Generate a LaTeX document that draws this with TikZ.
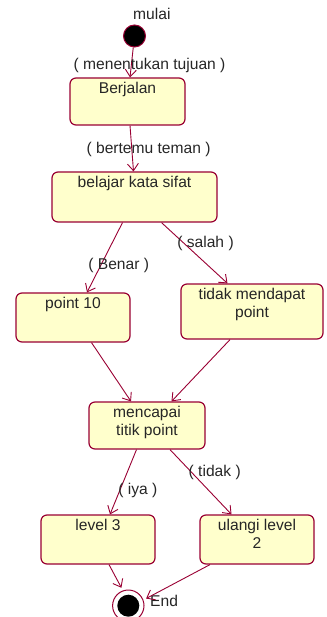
\documentclass[tikz,border=0pt]{standalone}
\usepackage{fontspec}
\setmainfont{Liberation Sans}
\usetikzlibrary{arrows.meta,calc}
\definecolor{umlmaroon}{HTML}{990033}
\definecolor{umlfill}{HTML}{FFFFCC}
\tikzset{
  statebox/.style={rectangle, draw=umlmaroon, fill=umlfill, rounded corners=6pt,
    line width=1.2pt, inner sep=0pt},
  statetext/.style={anchor=north, inner sep=0pt, yshift=-5pt, align=center,
    text=black!85},
  initstate/.style={circle, draw=umlmaroon, fill=black, minimum size=22pt,
    inner sep=0pt, line width=1pt},
  finalstate/.style={circle, draw=umlmaroon, line width=1pt, minimum size=31.4pt,
    inner sep=0pt, outer sep=3.5pt,
    path picture={\fill[black] (path picture bounding box.center) circle (11pt);}},
  trans/.style={-{Straight Barb[length=7pt, width=11pt]}, line width=0.9pt,
    draw=umlmaroon},
  guard/.style={text=black!85, inner sep=1pt},
  statename/.style={text=black!85, inner sep=0pt, anchor=base west},
}

\begin{document}
\begin{tikzpicture}[x=1pt, y=-1pt, font=\fontsize{15.6}{18}\selectfont]
\useasboundingbox (0,0) rectangle (326,617);
% --- start ---
\node[initstate] (start) at (134.5,36) {};
\node[statename] (mulaitext) at (133,20) {mulai};
% --- states ---
\node[statebox, minimum width=115pt, minimum height=47pt,
  label={[statetext]north:Berjalan}] (berjalan) at (127.5,101.5) {};
\node[statebox, minimum width=165pt, minimum height=50pt,
  label={[statetext]north:belajar kata sifat}] (belajar) at (134.5,197) {};
\node[statebox, minimum width=114pt, minimum height=49pt,
  label={[statetext]north:point 10}] (point) at (73,317.5) {};
\node[statebox, minimum width=142pt, minimum height=55pt,
  label={[statetext]north:tidak mendapat\\point}] (tidak) at (252,311.5) {};
\node[statebox, minimum width=116pt, minimum height=47pt,
  label={[statetext]north:mencapai\\titik point}] (mencapai) at (147,425.5) {};
\node[statebox, minimum width=114pt, minimum height=49pt,
  label={[statetext]north:level 3}] (level) at (98,539.5) {};
\node[statebox, minimum width=114pt, minimum height=49pt,
  label={[statetext]north:ulangi level\\2}] (ulangi) at (257,539.5) {};
% --- end ---
\node[finalstate] (end) at (128.3,605.7) {};
\node[statename] (endtext) at (150,606.7) {End};
% --- transitions ---
\draw[trans] (start) -- node[guard, pos=0.61, xshift=18.3pt] {( menentukan tujuan )} ([xshift=2.5pt]berjalan.north);
\draw[trans] ([xshift=2.5pt]berjalan.south) -- node[guard, pos=0.53, xshift=16.7pt] {( bertemu teman )} ([xshift=-1pt]belajar.north);
\draw[trans] ([xshift=-12pt]belajar.south) -- node[guard, pos=0.62, xshift=18.2pt] {( Benar )} ([xshift=14pt]point.north);
\draw[trans] ([xshift=27pt]belajar.south) -- node[guard, pos=0.34, xshift=21.6pt] {( salah )} ([xshift=-24.5pt]tidak.north);
\draw[trans] ([xshift=18.5pt]point.south) -- ([xshift=-16pt]mencapai.north);
\draw[trans] ([xshift=-22pt]tidak.south) -- ([xshift=24.5pt]mencapai.north);
\draw[trans] ([xshift=-10.5pt]mencapai.south) -- node[guard, pos=0.63, xshift=18.1pt] {( iya )} ([xshift=12pt]level.north);
\draw[trans] ([xshift=23pt]mencapai.south) -- node[guard, pos=0.35, xshift=23.2pt] {( tidak )} ([xshift=-25.5pt]ulangi.north);
\draw[trans] ([xshift=11pt]level.south) -- (end.111);
\draw[trans] ([xshift=-47pt]ulangi.south) -- (end.22);
\end{tikzpicture}
\end{document}
